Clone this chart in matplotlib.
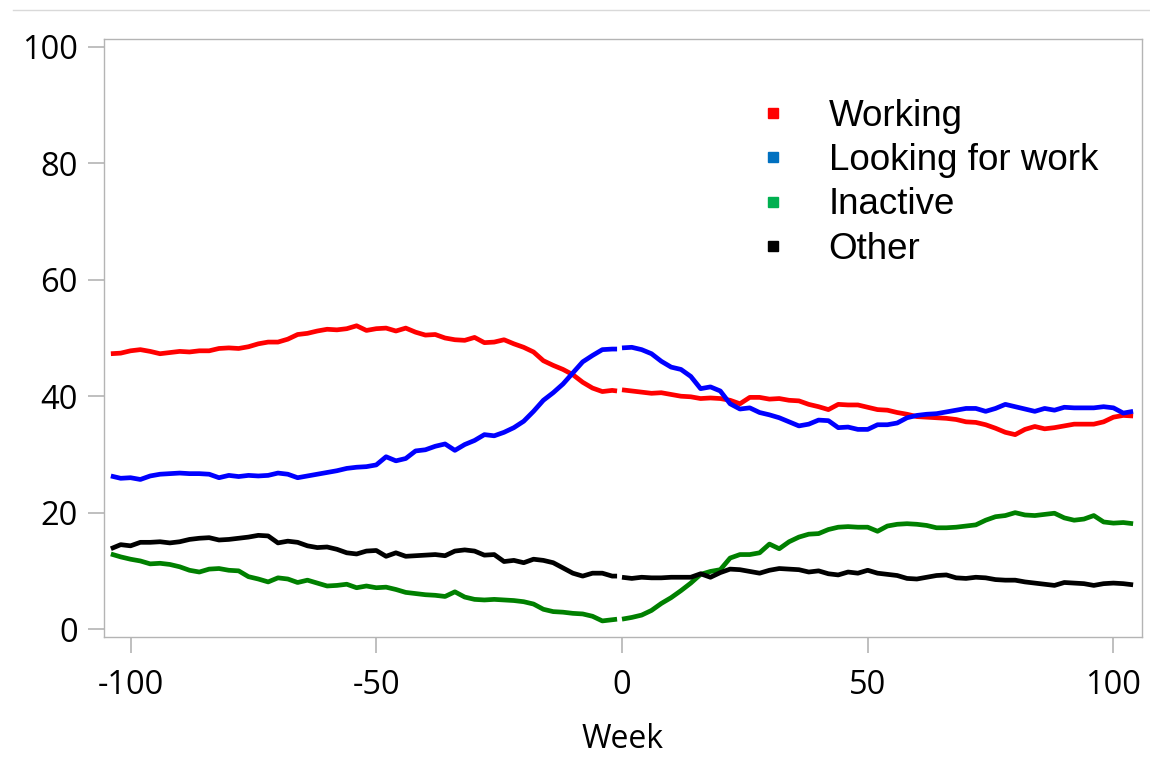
import numpy as np
import matplotlib
matplotlib.use("Agg")
import matplotlib.pyplot as plt
from matplotlib.lines import Line2D

plt.rcParams["axes.unicode_minus"] = False

# weeks before / after the event (gap at the event itself)
weeks_pre = list(range(-104, -1, 2)) + [-1]
weeks_post = list(range(0, 105, 2))

working_pre = [47.3, 47.4, 47.8, 48.0, 47.7, 47.3, 47.5, 47.7, 47.6, 47.8,
               47.8, 48.2, 48.3, 48.2, 48.5, 49.0, 49.3, 49.3, 49.8, 50.6,
               50.8, 51.2, 51.5, 51.4, 51.6, 52.1, 51.3, 51.6, 51.7, 51.2,
               51.7, 51.0, 50.5, 50.6, 50.0, 49.7, 49.6, 50.1, 49.2, 49.3,
               49.7, 49.0, 48.4, 47.6, 46.1, 45.3, 44.6, 43.7, 42.4, 41.4,
               40.8, 41.0, 40.9]
working_post = [41.1, 40.9, 40.7, 40.5, 40.6, 40.3, 40.0, 39.9, 39.6, 39.7,
                39.6, 39.3, 38.7, 39.8, 39.8, 39.5, 39.6, 39.3, 39.2, 38.6,
                38.2, 37.7, 38.6, 38.5, 38.5, 38.1, 37.7, 37.6, 37.2, 36.9,
                36.5, 36.4, 36.3, 36.2, 36.0, 35.6, 35.5, 35.1, 34.5, 33.8,
                33.4, 34.3, 34.8, 34.4, 34.6, 34.9, 35.2, 35.2, 35.2, 35.6,
                36.4, 36.7, 36.6]

looking_pre = [26.3, 25.9, 26.0, 25.7, 26.3, 26.6, 26.7, 26.8, 26.7, 26.7,
               26.6, 26.0, 26.4, 26.2, 26.4, 26.3, 26.4, 26.8, 26.6, 26.0,
               26.3, 26.6, 26.9, 27.2, 27.6, 27.8, 27.9, 28.2, 29.6, 28.9,
               29.3, 30.6, 30.8, 31.4, 31.8, 30.7, 31.7, 32.4, 33.4, 33.2,
               33.8, 34.6, 35.7, 37.4, 39.3, 40.6, 42.1, 44.0, 45.9, 47.0,
               48.0, 48.1, 48.1]
looking_post = [48.3, 48.4, 48.0, 47.3, 46.0, 45.0, 44.6, 43.4, 41.3, 41.6,
                40.9, 38.7, 37.8, 38.0, 37.2, 36.8, 36.3, 35.6, 34.9, 35.2,
                35.9, 35.8, 34.6, 34.7, 34.3, 34.3, 35.1, 35.1, 35.4, 36.3,
                36.7, 36.9, 37.0, 37.3, 37.6, 37.9, 37.9, 37.4, 37.9, 38.6,
                38.2, 37.8, 37.4, 37.9, 37.6, 38.1, 38.0, 38.0, 38.0, 38.2,
                38.0, 37.1, 37.4]

inactive_pre = [12.9, 12.4, 12.0, 11.7, 11.2, 11.3, 11.1, 10.7, 10.1, 9.8,
                10.3, 10.4, 10.1, 10.0, 9.0, 8.6, 8.1, 8.8, 8.6, 8.0,
                8.4, 7.9, 7.4, 7.5, 7.7, 7.1, 7.4, 7.1, 7.2, 6.8,
                6.3, 6.1, 5.9, 5.8, 5.6, 6.4, 5.5, 5.1, 5.0, 5.1,
                5.0, 4.9, 4.7, 4.3, 3.4, 3.0, 2.9, 2.7, 2.6, 2.2,
                1.4, 1.6, 1.7]
inactive_post = [1.7, 2.0, 2.4, 3.2, 4.4, 5.4, 6.6, 7.9, 9.4, 9.9,
                 10.2, 12.2, 12.8, 12.8, 13.1, 14.6, 13.8, 15.0, 15.8, 16.3,
                 16.4, 17.1, 17.5, 17.6, 17.5, 17.5, 16.8, 17.7, 18.0, 18.1,
                 18.0, 17.8, 17.4, 17.4, 17.5, 17.7, 17.9, 18.7, 19.3, 19.5,
                 20.0, 19.6, 19.5, 19.7, 19.9, 19.1, 18.7, 18.9, 19.5, 18.4,
                 18.2, 18.3, 18.1]

other_pre = [13.8, 14.5, 14.3, 14.9, 14.9, 15.0, 14.8, 15.0, 15.4, 15.6,
             15.7, 15.3, 15.4, 15.6, 15.8, 16.1, 16.0, 14.8, 15.1, 14.9,
             14.3, 14.0, 14.1, 13.7, 13.1, 12.9, 13.4, 13.5, 12.5, 13.1,
             12.5, 12.6, 12.7, 12.8, 12.6, 13.4, 13.6, 13.4, 12.7, 12.8,
             11.6, 11.8, 11.4, 12.0, 11.8, 11.4, 10.5, 9.6, 9.1, 9.6,
             9.6, 9.1, 9.1]
other_post = [8.9, 8.7, 8.9, 8.8, 8.8, 8.9, 8.9, 8.9, 9.5, 8.9,
              9.7, 10.3, 10.2, 9.9, 9.6, 10.1, 10.4, 10.3, 10.2, 9.8,
              10.0, 9.5, 9.3, 9.8, 9.6, 10.1, 9.6, 9.4, 9.2, 8.7,
              8.6, 8.9, 9.2, 9.3, 8.8, 8.7, 8.9, 8.8, 8.5, 8.4,
              8.4, 8.1, 7.9, 7.7, 7.5, 8.0, 7.9, 7.8, 7.5, 7.8,
              7.9, 7.8, 7.6]

labels = ["Working", "Looking for work", "Inactive", "Other"]
line_colors = ["#ff0000", "#0000ff", "#008000", "#000000"]
legend_colors = ["#ff0000", "#0070c0", "#00b050", "#000000"]

series = [(working_pre, working_post), (looking_pre, looking_post),
          (inactive_pre, inactive_post), (other_pre, other_post)]

fig = plt.figure(figsize=(11.5, 7.57), dpi=100)
ax = fig.add_axes([0.090, 0.159, 0.903, 0.789])

for (pre, post), col in zip(series, line_colors):
    ax.plot(weeks_pre, pre, color=col, lw=3.4, solid_capstyle="butt")
    ax.plot(weeks_post, post, color=col, lw=3.4, solid_capstyle="butt")

ax.set_xlim(-105.5, 105.8)
ax.set_ylim(-1.3, 101.3)
ax.set_xticks([-100, -50, 0, 50, 100])
ax.set_yticks([0, 20, 40, 60, 80, 100])

tick_font = "Open Sans"
for lab in ax.get_xticklabels() + ax.get_yticklabels():
    lab.set_fontfamily(tick_font)
    lab.set_fontsize(23.5)
ax.tick_params(axis="both", length=11.5, width=1.2, color="#b4b4b4")
ax.tick_params(axis="x", pad=12)
ax.tick_params(axis="y", pad=7)
for sp in ax.spines.values():
    sp.set_color("#b4b4b4")
    sp.set_linewidth(1.0)

ax.set_xlabel("Week", fontsize=23, family=tick_font, labelpad=15)

handles = [Line2D([], [], ls="none", marker="s", markersize=7,
                  color=c) for c in legend_colors]
ax.legend(handles, labels, loc="upper left",
          bbox_to_anchor=(755 / 1150, 1 - 99 / 757),
          bbox_transform=fig.transFigure, frameon=False,
          prop={"family": "Liberation Sans", "size": 26.5},
          handlelength=1.0, handletextpad=1.0, labelspacing=0.25,
          borderpad=0, borderaxespad=0)

# thin gray rule across the top of the image
fig.add_artist(Line2D([13 / 1150, 1.0], [1 - 10 / 757, 1 - 10 / 757],
                      transform=fig.transFigure, color="#d9d9d9", lw=1.0))

fig.savefig("out.png", dpi=100)
